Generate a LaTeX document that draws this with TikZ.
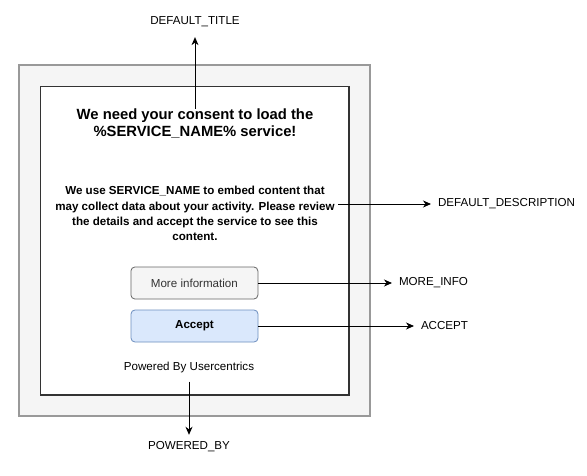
\documentclass[tikz,border=0pt]{standalone}
\usepackage{fontspec}
\setmainfont{Liberation Sans}
\usetikzlibrary{arrows.meta}
\definecolor{panelfill}{HTML}{F5F5F5}
\definecolor{panelstroke}{HTML}{999999}
\definecolor{innerstroke}{HTML}{333333}
\definecolor{btnfill}{HTML}{F5F5F5}
\definecolor{btnstroke}{HTML}{666666}
\definecolor{btntext}{HTML}{333333}
\definecolor{accfill}{HTML}{DAE8FC}
\definecolor{accstroke}{HTML}{6C8EBF}
\tikzset{
  lbl/.style={inner sep=0pt, outer sep=7pt, font=\fontsize{11.6}{14}\selectfont},
  conn/.style={line width=0.9pt, -{Stealth[length=8pt,width=7pt,inset=2.5pt]}},
  btn/.style={draw=btnstroke, fill=btnfill, line width=0.8pt, rounded corners=4pt,
    minimum width=127pt, minimum height=32pt, inner sep=0pt, text=btntext,
    font=\fontsize{11.6}{14}\selectfont},
  accbtn/.style={btn, draw=accstroke, fill=accfill, text=black, font=\fontsize{11.6}{14}\selectfont\bfseries},
  bodytext/.style={inner sep=0pt, align=center, font=\fontsize{11.6}{15.3}\selectfont\bfseries},
}
\begin{document}
\begin{tikzpicture}[x=1pt,y=-1pt]
\useasboundingbox (0,0) rectangle (587,476);
% panels
\draw[fill=panelfill, draw=panelstroke, line width=1.2pt] (19,65) rectangle (370,416);
\draw[fill=white, draw=innerstroke, line width=1.1pt] (40.7,86.7) rectangle (349,395);
% texts inside
\node[inner sep=0pt, align=center, font=\fontsize{14.8}{16.8}\selectfont\bfseries] (title) at (195,123.5)
  {We need your consent to load the\\\%SERVICE\_NAME\% service!};
\node[bodytext] (desc) at (195,213.7)
  {We use SERVICE\_NAME to embed content that\\may collect data about your activity. Please review\\the details and accept the service to see this\\content.};
\node[btn] (more) at (194.4,283) {More information};
\node[accbtn] (accept) at (194.5,326) {Accept};
\node[inner sep=0pt, font=\fontsize{11.6}{14}\selectfont] (powered) at (189,367) {Powered By Usercentrics};
\coordinate (descout) at (338,204);
% outside labels
\node[lbl] (dtitle) at (195,22) {DEFAULT\_TITLE};
\node[lbl, anchor=west, xshift=-7pt] (ddesc) at (438,204) {DEFAULT\_DESCRIPTION};
\node[lbl, anchor=west, xshift=-7pt] (dmore) at (399,283) {MORE\_INFO};
\node[lbl, anchor=west, xshift=-7pt] (dacc) at (421,326) {ACCEPT};
\node[lbl] (dpow) at (189,447) {POWERED\_BY};
% connectors
\draw[conn, shorten >=3pt] (title.north) -- (dtitle.south);
\draw[conn] (descout) -- (ddesc.west);
\draw[conn] (more.east) -- (more.east -| dmore.west);
\draw[conn] (accept.east) -- (accept.east -| dacc.west);
\draw[conn, shorten <=9pt] (powered.south) -- (dpow.north);
\end{tikzpicture}
\end{document}
